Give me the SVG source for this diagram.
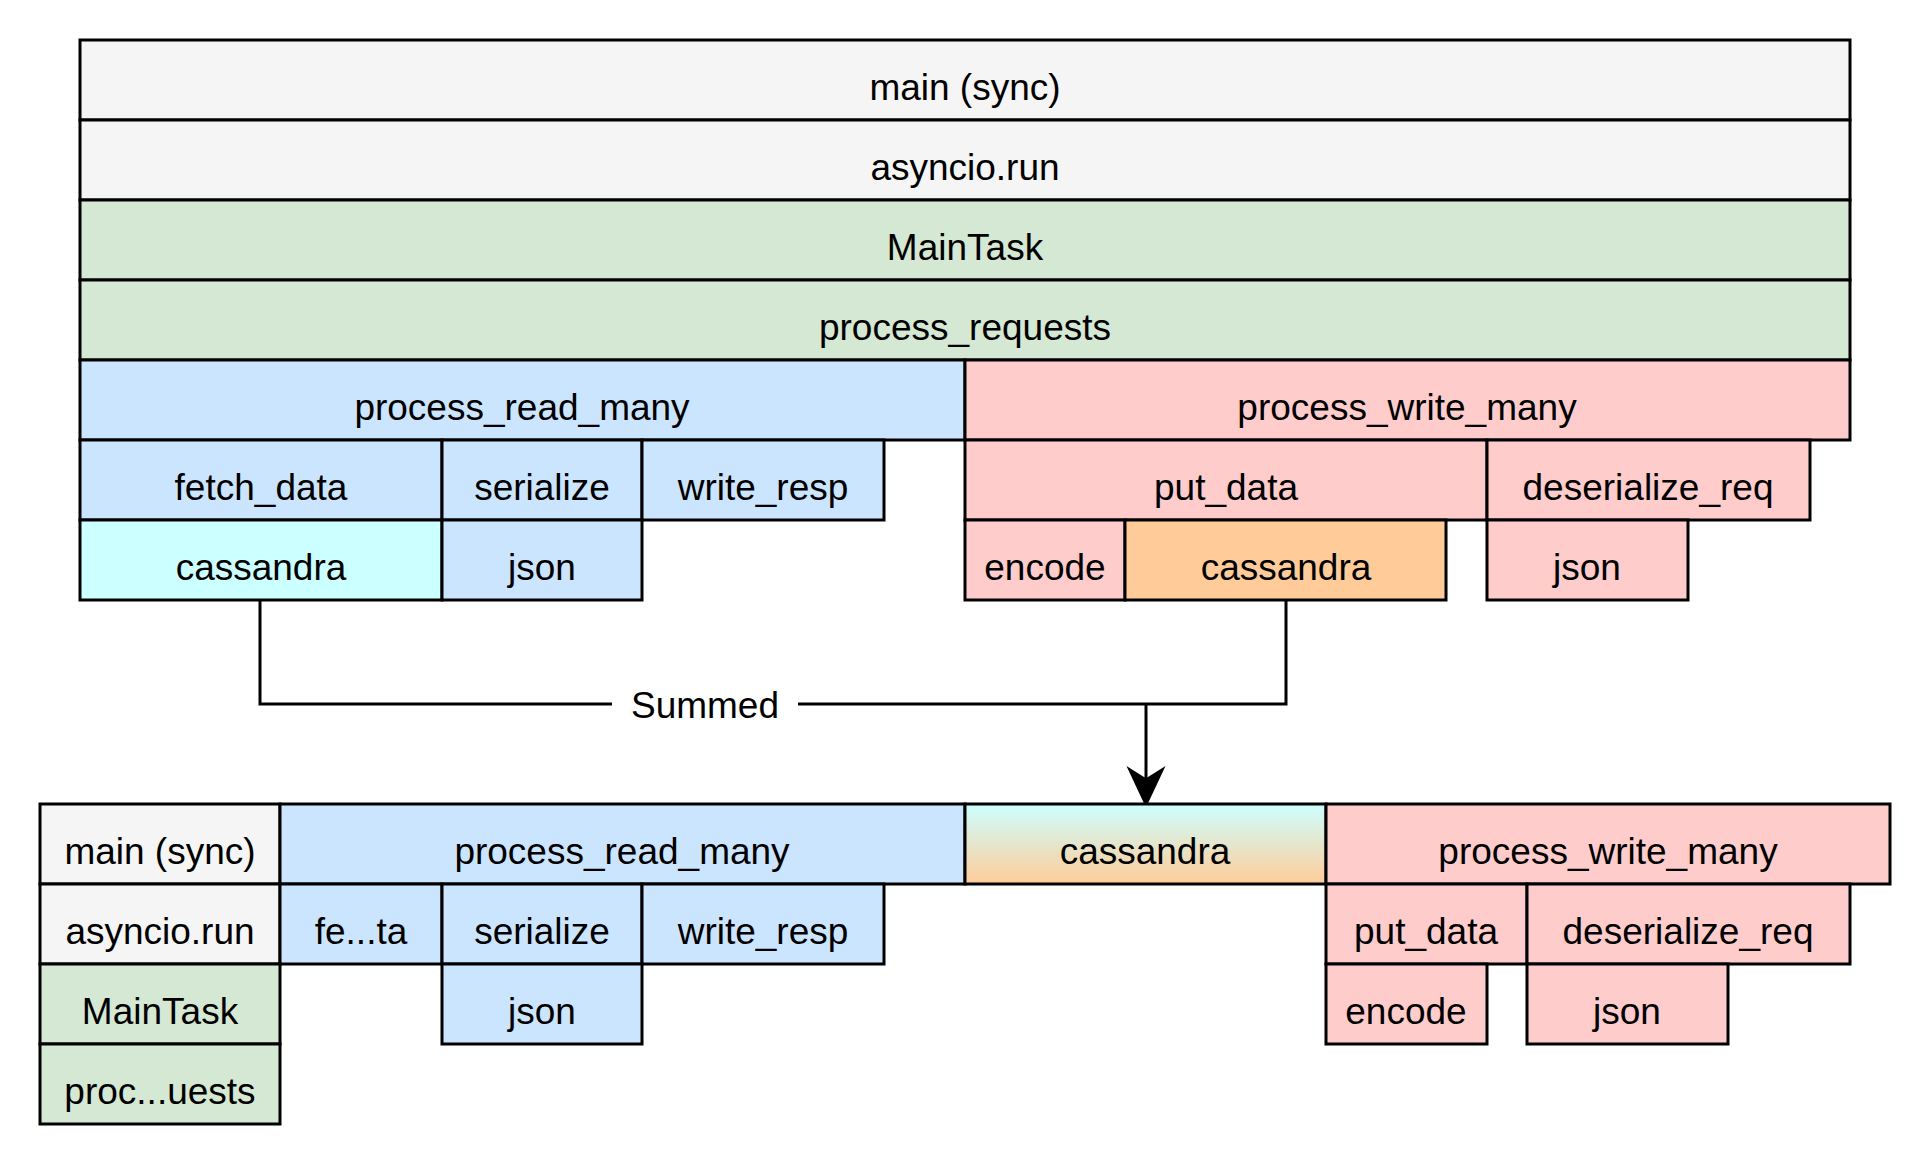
<svg xmlns="http://www.w3.org/2000/svg" width="1924" height="1164" viewBox="0 0 1924 1164">
<style>
rect{stroke:#000;stroke-width:3}
text{font-family:"Liberation Sans",Arial,sans-serif;font-size:37px;text-anchor:middle;fill:#000}
.g{fill:#f5f5f5}.gr{fill:#d5e8d4}.b{fill:#cce5ff}.r{fill:#ffcccc}.c{fill:#ccffff}.o{fill:#ffcc99}
</style>
<defs>
<linearGradient id="grad" x1="0" y1="0" x2="0" y2="1"><stop offset="0" stop-color="#ccffff"/><stop offset="1" stop-color="#ffcc99"/></linearGradient>
</defs>
<rect width="1924" height="1164" fill="#fff" style="stroke:none"/>
<g id="connectors" fill="none" stroke="#000" stroke-width="3">
<path d="M260 600V704H1286V600"/>
<path d="M1146 704V790"/>
<path d="M1146 804L1130 770L1146 780L1162 770Z" fill="#000"/>
<rect x="612" y="680" width="186" height="46" fill="#fff" style="stroke:none"/>
<text x="705" y="718" stroke="none">Summed</text>
</g>
<g id="t-main"><rect class="g" x="80" y="40" width="1770" height="80"/><text x="965" y="100">main (sync)</text></g>
<g id="t-asyncio"><rect class="g" x="80" y="120" width="1770" height="80"/><text x="965" y="180">asyncio.run</text></g>
<g id="t-maintask"><rect class="gr" x="80" y="200" width="1770" height="80"/><text x="965" y="260">MainTask</text></g>
<g id="t-procreq"><rect class="gr" x="80" y="280" width="1770" height="80"/><text x="965" y="340">process_requests</text></g>
<g id="t-readmany"><rect class="b" x="80" y="360" width="885" height="80"/><text x="522" y="420">process_read_many</text></g>
<g id="t-writemany"><rect class="r" x="965" y="360" width="885" height="80"/><text x="1407" y="420">process_write_many</text></g>
<g id="t-fetch"><rect class="b" x="80" y="440" width="362" height="80"/><text x="261" y="500">fetch_data</text></g>
<g id="t-serialize"><rect class="b" x="442" y="440" width="200" height="80"/><text x="542" y="500">serialize</text></g>
<g id="t-writeresp"><rect class="b" x="642" y="440" width="242" height="80"/><text x="763" y="500">write_resp</text></g>
<g id="t-putdata"><rect class="r" x="965" y="440" width="522" height="80"/><text x="1226" y="500">put_data</text></g>
<g id="t-deser"><rect class="r" x="1487" y="440" width="323" height="80"/><text x="1648" y="500">deserialize_req</text></g>
<g id="t-cass1"><rect class="c" x="80" y="520" width="362" height="80"/><text x="261" y="580">cassandra</text></g>
<g id="t-json1"><rect class="b" x="442" y="520" width="200" height="80"/><text x="542" y="580">json</text></g>
<g id="t-encode"><rect class="r" x="965" y="520" width="160" height="80"/><text x="1045" y="580">encode</text></g>
<g id="t-cass2"><rect class="o" x="1125" y="520" width="321" height="80"/><text x="1286" y="580">cassandra</text></g>
<g id="t-json2"><rect class="r" x="1487" y="520" width="201" height="80"/><text x="1587" y="580">json</text></g>

<g id="b-main"><rect class="g" x="40" y="804" width="240" height="80"/><text x="160" y="864">main (sync)</text></g>
<g id="b-readmany"><rect class="b" x="280" y="804" width="685" height="80"/><text x="622" y="864">process_read_many</text></g>
<g id="b-cass"><rect fill="url(#grad)" x="965" y="804" width="361" height="80"/><text x="1145" y="864">cassandra</text></g>
<g id="b-writemany"><rect class="r" x="1326" y="804" width="564" height="80"/><text x="1608" y="864">process_write_many</text></g>
<g id="b-asyncio"><rect class="g" x="40" y="884" width="240" height="80"/><text x="160" y="944">asyncio.run</text></g>
<g id="b-fetch"><rect class="b" x="280" y="884" width="162" height="80"/><text x="361" y="944">fe...ta</text></g>
<g id="b-serialize"><rect class="b" x="442" y="884" width="200" height="80"/><text x="542" y="944">serialize</text></g>
<g id="b-writeresp"><rect class="b" x="642" y="884" width="242" height="80"/><text x="763" y="944">write_resp</text></g>
<g id="b-putdata"><rect class="r" x="1326" y="884" width="201" height="80"/><text x="1426" y="944">put_data</text></g>
<g id="b-deser"><rect class="r" x="1527" y="884" width="323" height="80"/><text x="1688" y="944">deserialize_req</text></g>
<g id="b-maintask"><rect class="gr" x="40" y="964" width="240" height="80"/><text x="160" y="1024">MainTask</text></g>
<g id="b-json1"><rect class="b" x="442" y="964" width="200" height="80"/><text x="542" y="1024">json</text></g>
<g id="b-encode"><rect class="r" x="1326" y="964" width="161" height="80"/><text x="1406" y="1024">encode</text></g>
<g id="b-json2"><rect class="r" x="1527" y="964" width="201" height="80"/><text x="1627" y="1024">json</text></g>
<g id="b-procreq"><rect class="gr" x="40" y="1044" width="240" height="80"/><text x="160" y="1104">proc...uests</text></g>
</svg>
